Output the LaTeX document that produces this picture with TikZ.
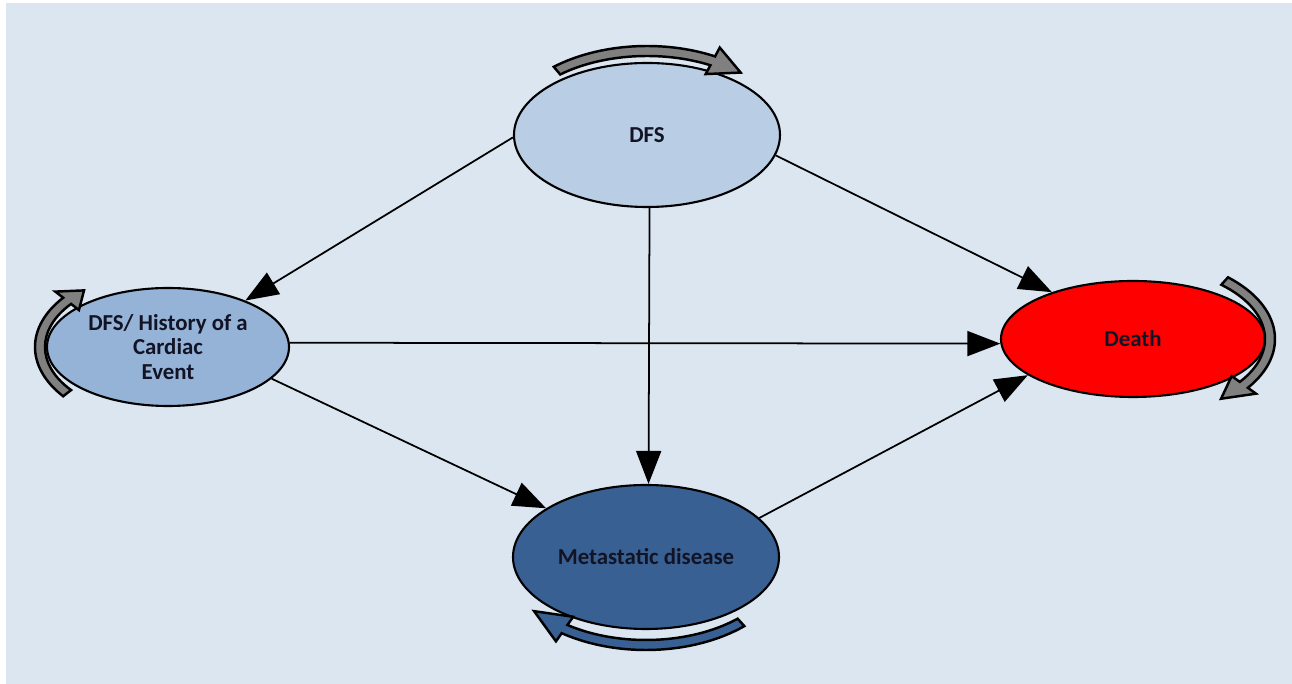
\documentclass[tikz,border=0pt]{standalone}
\usepackage{fontspec}
\setmainfont{Carlito}
\usetikzlibrary{calc,arrows.meta,shapes.geometric}

\definecolor{bgblue}{RGB}{220,230,241}
\definecolor{dfsblue}{RGB}{185,205,229}
\definecolor{histblue}{RGB}{149,179,215}
\definecolor{metablue}{RGB}{56,96,146}
\definecolor{loopgray}{RGB}{128,128,128}
\definecolor{textnavy}{RGB}{18,20,38}

% curved self arrow round a state: centre, x radius, y radius, tail angle, base angle, tip angle, fill
\newcommand\selfarrow[7]{%
\filldraw [loopback, fill=#7] ($(#1)+(#4:#2+0.05 and #3+0.05)$) arc [start angle=#4, end angle=#5, x radius=#2+0.05, y radius=#3+0.05]
  -- ($(#1)+(#5:#2+0.15 and #3+0.15)$) -- ($(#1)+(#6:#2 and #3)$) -- ($(#1)+(#5:#2-0.15 and #3-0.15)$)
  -- ($(#1)+(#5:#2-0.05 and #3-0.05)$) arc [start angle=#5, end angle=#4, x radius=#2-0.05, y radius=#3-0.05] -- cycle;}

\begin{document}
\begin{tikzpicture}[
  state/.style={ellipse, draw=black, line width=0.6pt, text=textnavy, align=center,
    font=\fontsize{6.5}{7}\selectfont\bfseries, inner sep=0pt},
  link/.style={-{Triangle[length=0.33cm,width=0.25cm]}, line width=0.5pt, black},
  loopback/.style={draw=black, line width=0.7pt}]
\useasboundingbox (0,0) rectangle (12.92,6.84);
\fill [bgblue] (0.06,0) rectangle (12.92,6.81);

% states
\node [state, fill=dfsblue, minimum width=2.66cm, minimum height=1.44cm] (dfs) at (6.47,5.49) {DFS};
\node [state, fill=histblue, minimum width=2.42cm, minimum height=1.18cm] (hist) at (1.68,3.37) {DFS/ History of a\\Cardiac\\Event};
\node [state, fill=red, minimum width=2.64cm, minimum height=1.16cm] (death) at (11.33,3.45) {Death};
\node [state, fill=metablue, minimum width=2.66cm, minimum height=1.44cm] (meta) at (6.46,1.27) {Metastatic disease};

% transitions
\draw [link] (dfs.181) -- (hist.31);
\draw [link] (dfs.-9) -- (death.150);
\draw [link] (dfs.-88) -- (meta.88);
\draw [link] (hist.2) -- (death.182);
\draw [link] (hist.-17) -- (meta.154);
\draw [link] (meta.19) -- (death.199);

% staying in the same state
\selfarrow{dfs.center}{1.40}{0.84}{130}{62}{48}{loopgray}
\selfarrow{hist.center}{1.28}{0.75}{218}{142}{131}{loopgray}
\selfarrow{death.center}{1.37}{0.78}{48}{-36}{-50}{loopgray}
\selfarrow{meta.center}{1.42}{0.88}{-48}{-125}{-142}{metablue}
\end{tikzpicture}
\end{document}
